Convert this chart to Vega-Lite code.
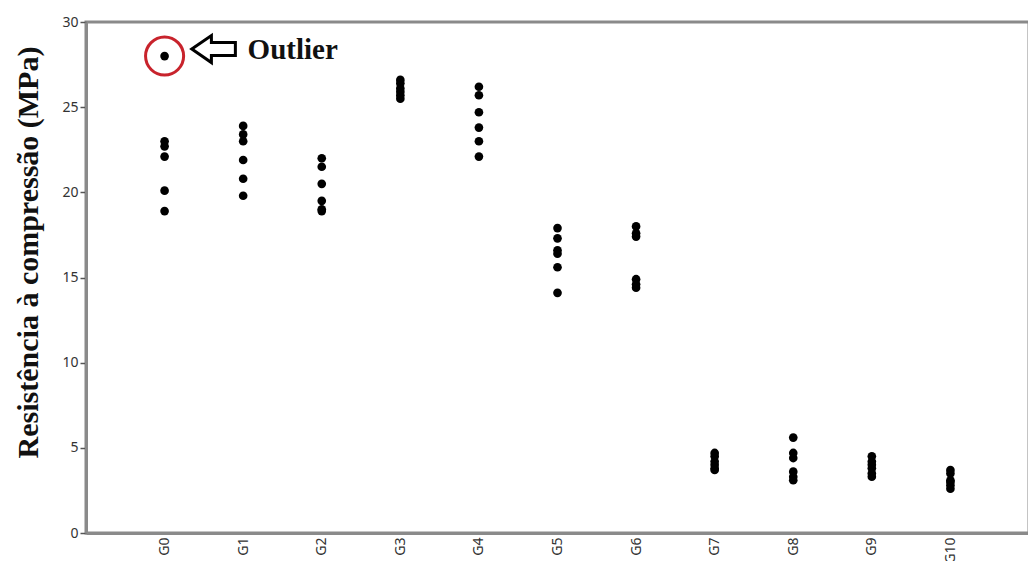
{
  "$schema": "https://vega.github.io/schema/vega-lite/v6.json",
  "width": 943,
  "height": 511,
  "autosize": {"type": "none"},
  "padding": {"left": 86, "top": 22, "right": 0, "bottom": 28},
  "background": "white",
  "config": {
    "view": {"stroke": "#8a8a8a", "strokeWidth": 3},
    "axis": {
      "domainColor": "#8a8a8a",
      "domainWidth": 3,
      "tickColor": "#555555",
      "labelFont": "Noto Sans",
      "labelFontSize": 14,
      "labelColor": "#333333",
      "grid": false
    }
  },
  "data": {
    "values": [
      {"grupo": "G0", "resistencia": 28.0, "outlier": true},
      {"grupo": "G0", "resistencia": 23.0},
      {"grupo": "G0", "resistencia": 22.7},
      {"grupo": "G0", "resistencia": 22.1},
      {"grupo": "G0", "resistencia": 20.1},
      {"grupo": "G0", "resistencia": 18.9},
      {"grupo": "G1", "resistencia": 23.9},
      {"grupo": "G1", "resistencia": 23.4},
      {"grupo": "G1", "resistencia": 23.0},
      {"grupo": "G1", "resistencia": 21.9},
      {"grupo": "G1", "resistencia": 20.8},
      {"grupo": "G1", "resistencia": 19.8},
      {"grupo": "G2", "resistencia": 22.0},
      {"grupo": "G2", "resistencia": 21.5},
      {"grupo": "G2", "resistencia": 20.5},
      {"grupo": "G2", "resistencia": 19.5},
      {"grupo": "G2", "resistencia": 19.0},
      {"grupo": "G2", "resistencia": 18.9},
      {"grupo": "G3", "resistencia": 26.6},
      {"grupo": "G3", "resistencia": 26.4},
      {"grupo": "G3", "resistencia": 26.1},
      {"grupo": "G3", "resistencia": 25.9},
      {"grupo": "G3", "resistencia": 25.7},
      {"grupo": "G3", "resistencia": 25.5},
      {"grupo": "G4", "resistencia": 26.2},
      {"grupo": "G4", "resistencia": 25.7},
      {"grupo": "G4", "resistencia": 24.7},
      {"grupo": "G4", "resistencia": 23.8},
      {"grupo": "G4", "resistencia": 23.0},
      {"grupo": "G4", "resistencia": 22.1},
      {"grupo": "G5", "resistencia": 17.9},
      {"grupo": "G5", "resistencia": 17.3},
      {"grupo": "G5", "resistencia": 16.6},
      {"grupo": "G5", "resistencia": 16.4},
      {"grupo": "G5", "resistencia": 15.6},
      {"grupo": "G5", "resistencia": 14.1},
      {"grupo": "G6", "resistencia": 18.0},
      {"grupo": "G6", "resistencia": 17.6},
      {"grupo": "G6", "resistencia": 17.4},
      {"grupo": "G6", "resistencia": 14.9},
      {"grupo": "G6", "resistencia": 14.6},
      {"grupo": "G6", "resistencia": 14.4},
      {"grupo": "G7", "resistencia": 4.7},
      {"grupo": "G7", "resistencia": 4.5},
      {"grupo": "G7", "resistencia": 4.2},
      {"grupo": "G7", "resistencia": 4.0},
      {"grupo": "G7", "resistencia": 3.8},
      {"grupo": "G7", "resistencia": 3.7},
      {"grupo": "G8", "resistencia": 5.6},
      {"grupo": "G8", "resistencia": 4.7},
      {"grupo": "G8", "resistencia": 4.4},
      {"grupo": "G8", "resistencia": 3.6},
      {"grupo": "G8", "resistencia": 3.3},
      {"grupo": "G8", "resistencia": 3.1},
      {"grupo": "G9", "resistencia": 4.5},
      {"grupo": "G9", "resistencia": 4.2},
      {"grupo": "G9", "resistencia": 4.0},
      {"grupo": "G9", "resistencia": 3.8},
      {"grupo": "G9", "resistencia": 3.5},
      {"grupo": "G9", "resistencia": 3.3},
      {"grupo": "G10", "resistencia": 3.7},
      {"grupo": "G10", "resistencia": 3.5},
      {"grupo": "G10", "resistencia": 3.1},
      {"grupo": "G10", "resistencia": 3.0},
      {"grupo": "G10", "resistencia": 2.8},
      {"grupo": "G10", "resistencia": 2.6}
    ]
  },
  "encoding": {
    "x": {
      "field": "grupo",
      "type": "ordinal",
      "sort": ["G0", "G1", "G2", "G3", "G4", "G5", "G6", "G7", "G8", "G9", "G10"],
      "scale": {"type": "point", "padding": 1},
      "axis": {
        "title": null,
        "labelAngle": 270,
        "labelPadding": 4,
        "ticks": false,
        "domainWidth": 3
      }
    },
    "y": {
      "field": "resistencia",
      "type": "quantitative",
      "scale": {"domain": [0, 30], "nice": false, "zero": true},
      "axis": {
        "values": [0, 5, 10, 15, 20, 25, 30],
        "tickSize": 6,
        "tickWidth": 1.5,
        "labelPadding": 2,
        "title": "Resistência à compressão (MPa)",
        "titleFont": "Liberation Serif",
        "titleFontSize": 30,
        "titleFontWeight": "bold",
        "titleColor": "#111111",
        "titleAngle": 270,
        "titleBaseline": "alphabetic",
        "titleX": -49,
        "titleY": 230
      }
    }
  },
  "layer": [
    {
      "mark": {"type": "point", "filled": true, "shape": "circle", "size": 75, "color": "#000000", "opacity": 1}
    },
    {
      "transform": [{"filter": "datum.outlier === true"}],
      "mark": {"type": "point", "filled": false, "shape": "circle", "size": 1450, "stroke": "#c8232c", "strokeWidth": 3, "opacity": 1}
    },
    {
      "transform": [{"filter": "datum.outlier === true"}],
      "mark": {
        "type": "point",
        "shape": "M -1 0 L -0.1 -0.62 L -0.1 -0.3 L 1 -0.3 L 1 0.3 L -0.1 0.3 L -0.1 0.62 Z",
        "size": 1900,
        "filled": true,
        "fill": "white",
        "stroke": "#000000",
        "strokeWidth": 3,
        "strokeJoin": "miter",
        "opacity": 1,
        "xOffset": 49,
        "yOffset": -7
      }
    },
    {
      "transform": [{"filter": "datum.outlier === true"}],
      "mark": {
        "type": "text",
        "text": "Outlier",
        "font": "Liberation Serif",
        "fontSize": 29,
        "fontWeight": "bold",
        "color": "#111111",
        "align": "left",
        "baseline": "middle",
        "dx": 83,
        "dy": -6
      }
    }
  ]
}
